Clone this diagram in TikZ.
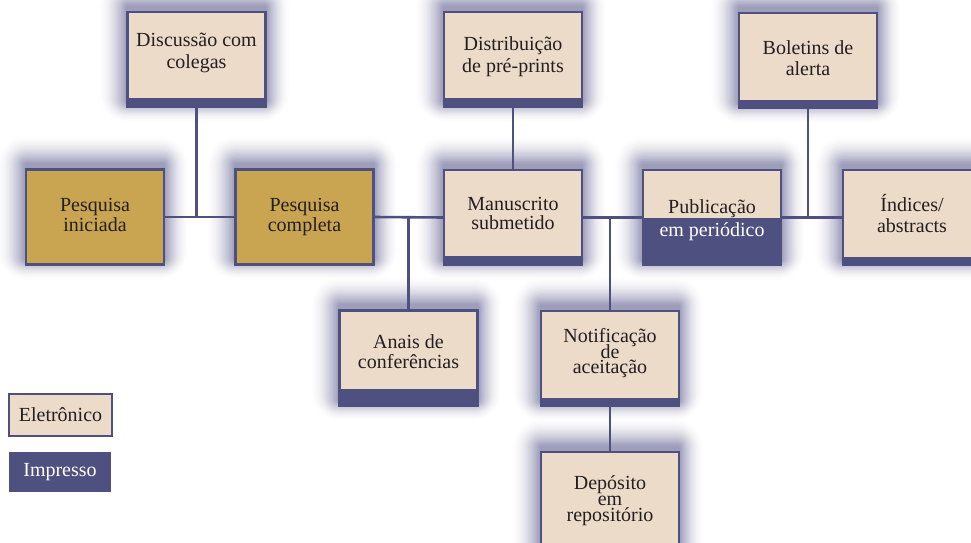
\documentclass[tikz,border=0pt]{standalone}
\usepackage{fontspec}
\setmainfont{Liberation Serif}
\pgfdeclarelayer{bg}
\pgfsetlayers{bg,main}
\definecolor{beige}{HTML}{ECDBC9}
\definecolor{navy}{HTML}{4E5180}
\definecolor{gold}{HTML}{C9A552}
\definecolor{ink}{HTML}{231F20}
\definecolor{glowc}{HTML}{55558F}
\tikzset{
  box/.style={draw=navy, line width=2.5pt, minimum width=138pt, minimum height=95pt, inner sep=0pt, outer sep=0pt},
  ebox/.style={box, fill=beige, path picture={\fill[navy] (path picture bounding box.south west) rectangle ([yshift=#1]path picture bounding box.south east);}},
  gbox/.style={box, fill=gold},
  txt/.style={anchor=base, inner sep=0pt, text=ink, font=\fontsize{20}{20}\selectfont},
  wtxt/.style={txt, text=white},
  conn/.style={draw=navy, line width=2.6pt},
}
\newcommand\glowof[1]{%
  \begin{pgfonlayer}{bg}
  \foreach \e in {1,...,24}{
    \pgfmathsetmacro\ea{1.3*\e}\pgfmathsetmacro\eb{5+1.3*\e}\pgfmathsetmacro\ec{1.1*\e}\pgfmathsetmacro\ed{5-0.9*\e}
    \pgfmathsetmacro\op{0.075*(1-\e/25)^1.5}
    \fill[glowc, opacity=\op, rounded corners=1.3*\e pt] ([xshift=-\ea pt, yshift=\eb pt]#1.north west) rectangle ([xshift=\ec pt, yshift=\ed pt]#1.south east);
  }
  \end{pgfonlayer}}
\begin{document}
\begin{tikzpicture}[x=1pt, y=-1pt]
\begin{pgfonlayer}{bg}
\fill[white] (0,0) rectangle (971,543);
\end{pgfonlayer}
\useasboundingbox (0,0) rectangle (971,543);

% boxes
\node[ebox=9pt] (disc) at (196.5,59.5) {};
\node[ebox=9pt] (dist) at (513,59.5) {};
\node[ebox=8.5pt] (bol) at (808,60.5) {};
\node[gbox] (pi) at (95,217) {};
\node[gbox] (pc) at (304.5,217) {};
\node[ebox=9pt] (man) at (513,217.5) {};
\node[ebox=47.5pt] (pub) at (712,217.5) {};
\node[ebox=8.5pt] (ind) at (912,217.5) {};
\node[ebox=17pt] (anais) at (408.5,358) {};
\node[ebox=8pt] (notif) at (610,358.5) {};
\node[ebox=8pt, minimum height=110pt] (dep) at (610,507) {};

\foreach \n in {disc,dist,bol,pi,pc,man,pub,ind,anais,notif,dep}{\glowof{\n}}

% texts
\node[txt] (t-disc1) at (196.5,47) {Discussão com};
\node[txt] (t-disc2) at (196.5,68) {colegas};
\node[txt] (t-dist1) at (513,51) {Distribuição};
\node[txt] (t-dist2) at (513,72) {de pré-prints};
\node[txt] (t-bol1) at (808,55) {Boletins de};
\node[txt] (t-bol2) at (808,75) {alerta};
\node[txt] (t-pi1) at (95,211) {Pesquisa};
\node[txt] (t-pi2) at (95,231) {iniciada};
\node[txt] (t-pc1) at (304.5,211) {Pesquisa};
\node[txt] (t-pc2) at (304.5,231) {completa};
\node[txt] (t-man1) at (513,210) {Manuscrito};
\node[txt] (t-man2) at (513,229) {submetido};
\node[txt] (t-pub1) at (712,213) {Publicação};
\node[wtxt] (t-pub2) at (712,236) {em periódico};
\node[txt] (t-ind1) at (912,211) {Índices/};
\node[txt] (t-ind2) at (912,232) {abstracts};
\node[txt] (t-an1) at (408.5,348) {Anais de};
\node[txt] (t-an2) at (408.5,368) {conferências};
\node[txt] (t-no1) at (610,342) {Notificação};
\node[txt] (t-no2) at (610,358) {de};
\node[txt] (t-no3) at (610,373) {aceitação};
\node[txt] (t-de1) at (610,489) {Depósito};
\node[txt] (t-de2) at (610,505) {em};
\node[txt] (t-de3) at (610,521) {repositório};

% connectors
\draw[conn] (pi.east) -- (pc.west);
\coordinate (j1) at (disc.south |- pi.east);
\draw[conn] (disc.south) -- (j1);
\draw[conn] (pc.east) -- (man.west);
\coordinate (j2) at (anais.north |- pc.east);
\draw[conn] (j2) -- (anais.north);
\draw[conn] (dist.south) -- (man.north);
\draw[conn] (man.east) -- (pub.west);
\coordinate (j3) at (notif.north |- man.east);
\draw[conn] (j3) -- (notif.north);
\draw[conn] (pub.east) -- (ind.west);
\coordinate (j4) at (bol.south |- pub.east);
\draw[conn] (bol.south) -- (j4);
\draw[conn] (notif.south) -- (dep.north);

% legend
\node[draw=navy, line width=2pt, fill=beige, minimum width=103pt, minimum height=42pt, inner sep=0pt, text=ink, font=\fontsize{20}{20}\selectfont] (leg1) at (60.5,415) {Eletrônico};
\node[fill=navy, minimum width=102pt, minimum height=40pt, inner sep=0pt, text=white, font=\fontsize{20}{20}\selectfont] (leg2) at (60,472) {Impresso};
\end{tikzpicture}
\end{document}
